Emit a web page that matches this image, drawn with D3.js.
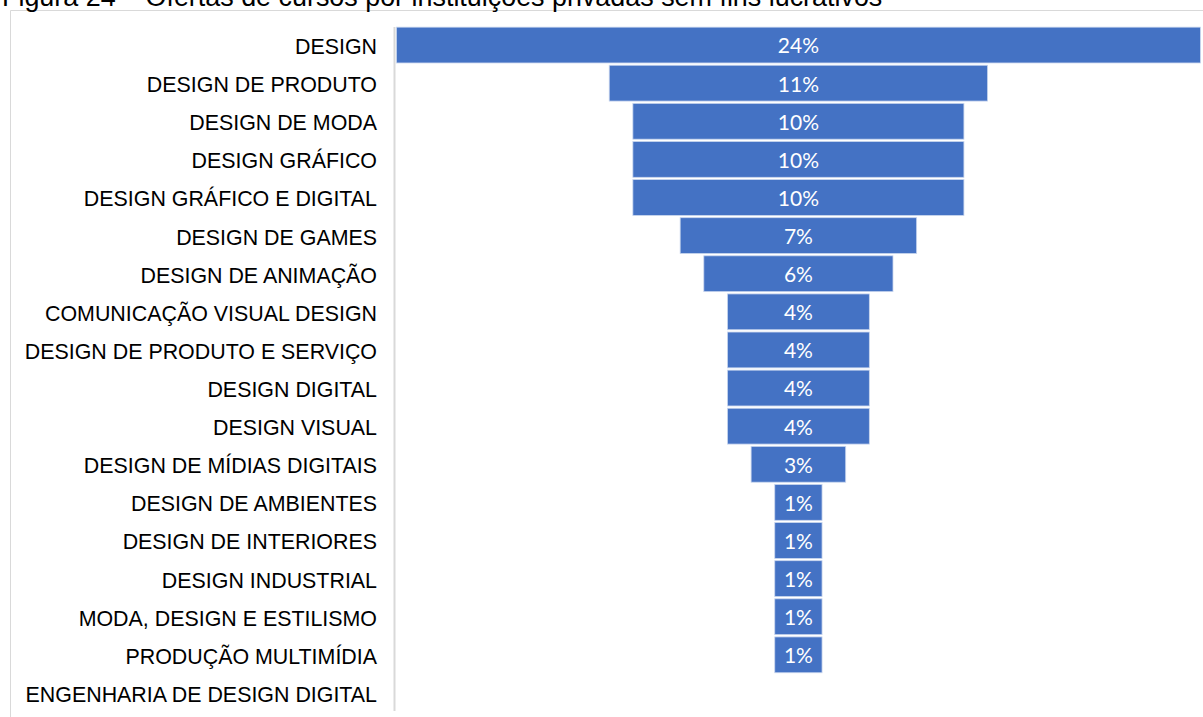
<!DOCTYPE html>
<html>
<head>
<meta charset="utf-8">
<script src="https://cdn.jsdelivr.net/npm/d3@7"></script>
<style>
  html, body { margin: 0; padding: 0; background: #fff; }
  svg { display: block; }
</style>
</head>
<body>
<svg id="chart" width="1203" height="717"></svg>
<script>
// ---- data ----
const title = "Figura 24 – Ofertas de cursos por instituições privadas sem fins lucrativos";
const categories = [
  "DESIGN",
  "DESIGN DE PRODUTO",
  "DESIGN DE MODA",
  "DESIGN GRÁFICO",
  "DESIGN GRÁFICO E DIGITAL",
  "DESIGN DE GAMES",
  "DESIGN DE ANIMAÇÃO",
  "COMUNICAÇÃO VISUAL DESIGN",
  "DESIGN DE PRODUTO E SERVIÇO",
  "DESIGN DIGITAL",
  "DESIGN VISUAL",
  "DESIGN DE MÍDIAS DIGITAIS",
  "DESIGN DE AMBIENTES",
  "DESIGN DE INTERIORES",
  "DESIGN INDUSTRIAL",
  "MODA, DESIGN E ESTILISMO",
  "PRODUÇÃO MULTIMÍDIA",
  "ENGENHARIA DE DESIGN DIGITAL"
];
// estimated course counts (bar widths)
const counts = [17, 8, 7, 7, 7, 5, 4, 3, 3, 3, 3, 2, 1, 1, 1, 1, 1, 0];
// data labels as shown
const percentLabels = ["24%", "11%", "10%", "10%", "10%", "7%", "6%", "4%", "4%", "4%", "4%", "3%", "1%", "1%", "1%", "1%", "1%", ""];

// ---- layout ----
const svg = d3.select("#chart");
const centerX = 798.4;
const maxWidth = 804;

const w = d3.scaleLinear().domain([0, d3.max(counts)]).range([0, maxWidth]);
const y = d3.scaleBand().domain(categories).range([26, 712]).paddingInner(0.06).paddingOuter(0.03);

// frame
svg.append("path")
  .attr("d", "M10.5,717 L10.5,10.5 L1203,10.5")
  .attr("fill", "none").attr("stroke", "#d9d9d9").attr("stroke-width", 1);

// title (cut off at top, as in the source)
svg.append("text")
  .attr("x", 2).attr("y", 6)
  .attr("font-family", "Liberation Sans, Arial, sans-serif")
  .attr("font-size", 26.9)
  .attr("fill", "#000")
  .text(title);

// category labels
svg.append("g").selectAll("text")
  .data(categories)
  .join("text")
  .attr("x", 377)
  .attr("y", d => y(d) + y.bandwidth() / 2)
  .attr("dy", "0.42em")
  .attr("text-anchor", "end")
  .attr("font-family", "Liberation Sans, Arial, sans-serif")
  .attr("font-size", 21.4)
  .attr("fill", "#000")
  .text(d => d);

// bars
const data = categories.map((c, i) => ({ c, v: counts[i], l: percentLabels[i] }));
svg.append("g").selectAll("rect")
  .data(data.filter(d => d.v > 0))
  .join("rect")
  .attr("x", d => centerX - w(d.v) / 2)
  .attr("y", d => y(d.c))
  .attr("width", d => w(d.v))
  .attr("height", y.bandwidth())
  .attr("fill", "#4472c4")
  .attr("stroke", "#c9d6ee")
  .attr("stroke-width", 0.8);

// value labels
svg.append("g").selectAll("text")
  .data(data.filter(d => d.v > 0))
  .join("text")
  .attr("x", centerX)
  .attr("y", d => y(d.c) + y.bandwidth() / 2)
  .attr("dy", "0.4em")
  .attr("text-anchor", "middle")
  .attr("font-family", "Lato, Open Sans, sans-serif")
  .attr("font-size", 21)
  .attr("fill", "#fff")
  .text(d => d.l);

// vertical axis line
svg.append("line")
  .attr("x1", 394.5).attr("x2", 394.5)
  .attr("y1", 27).attr("y2", 711)
  .attr("stroke", "#d9d9d9").attr("stroke-width", 2);
</script>
</body>
</html>
